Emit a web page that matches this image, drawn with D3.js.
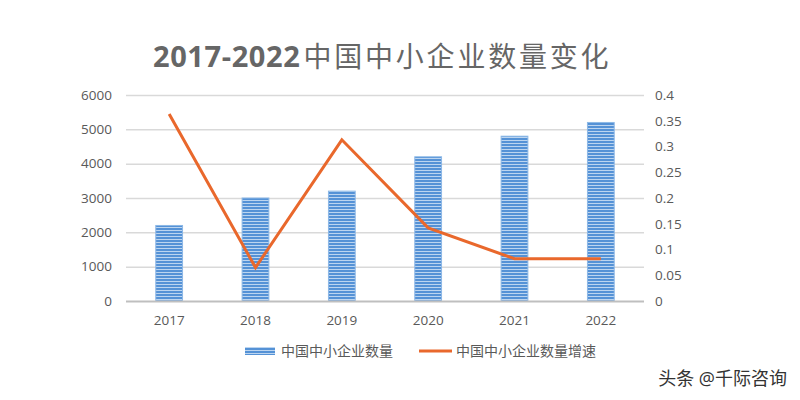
<!DOCTYPE html>
<html>
<head>
<meta charset="utf-8">
<script src="https://cdn.jsdelivr.net/npm/d3@7"></script>
<style>
  body { margin: 0; background: #fff; }
  svg text { font-family: "Open Sans", "Noto Sans CJK SC", sans-serif; }
</style>
</head>
<body>
<div id="chart"></div>
<script>
//////////////// DATA ////////////////

var years = ["2017", "2018", "2019", "2020", "2021", "2022"];
var companyCounts = [2200, 3000, 3200, 4200, 4800, 5200];
var growthRates = [0.363, 0.065, 0.313, 0.142, 0.082, 0.082];
var leftTicks = [0, 1000, 2000, 3000, 4000, 5000, 6000];
var rightTicks = [0, 0.05, 0.1, 0.15, 0.2, 0.25, 0.3, 0.35, 0.4];
var seriesNames = ["中国中小企业数量", "中国中小企业数量增速"];

//////////////// SETUP ////////////////

var w = 800,
    h = 400,
    margin = {top: 95, bottom: 99, left: 126, right: 156},
    barColor = "#5592d6",
    lineColor = "#e9682c",
    textColor = "#595959";

var svg = d3.select("#chart").append("svg")
    .attr("width", w)
    .attr("height", h);

// striped fill for the bars
var defs = svg.append("defs");
var pattern = defs.append("pattern")
    .attr("id", "stripes")
    .attr("patternUnits", "userSpaceOnUse")
    .attr("width", 6)
    .attr("height", 3);
pattern.append("rect").attr("width", 6).attr("height", 3).attr("fill", "#bcd5f0");
pattern.append("rect").attr("width", 6).attr("height", 2).attr("fill", barColor);

// Scales
var xScale = d3.scaleBand()
    .domain(years)
    .range([margin.left, w - margin.right]);

var yLeft = d3.scaleLinear()
    .domain([0, 6000])
    .range([h - margin.bottom, margin.top]);

var yRight = d3.scaleLinear()
    .domain([0, 0.4])
    .range([h - margin.bottom, margin.top]);

// Gridlines
svg.append("g")
    .selectAll("line")
    .data(leftTicks.slice(1))
    .enter()
    .append("line")
    .attr("x1", margin.left)
    .attr("x2", w - margin.right)
    .attr("y1", function(d) { return yLeft(d) + 0.5; })
    .attr("y2", function(d) { return yLeft(d) + 0.5; })
    .attr("stroke", "#d9d9d9")
    .attr("stroke-width", 1.5);

// Bars
var barWidth = xScale.bandwidth() * 0.31;
svg.append("g")
    .selectAll("rect")
    .data(companyCounts)
    .enter()
    .append("rect")
    .attr("x", function(d, i) { return xScale(years[i]) + xScale.bandwidth() / 2 - barWidth / 2; })
    .attr("y", function(d) { return yLeft(d); })
    .attr("width", barWidth)
    .attr("height", function(d) { return yLeft(0) - yLeft(d); })
    .attr("fill", "url(#stripes)")
    .attr("stroke", "#8db8e6")
    .attr("stroke-width", 1);

// Baseline
svg.append("line")
    .attr("x1", margin.left)
    .attr("x2", w - margin.right)
    .attr("y1", yLeft(0) + 0.5)
    .attr("y2", yLeft(0) + 0.5)
    .attr("stroke", "#bfbfbf")
    .attr("stroke-width", 2);

// Growth line
var line = d3.line()
    .x(function(d, i) { return xScale(years[i]) + xScale.bandwidth() / 2; })
    .y(function(d) { return yRight(d); });

svg.append("path")
    .datum(growthRates)
    .attr("d", line)
    .attr("fill", "none")
    .attr("stroke", lineColor)
    .attr("stroke-width", 3)
    .attr("stroke-linejoin", "miter");

// Axes - only tick labels are visible
var leftAxis = d3.axisLeft(yLeft).tickValues(leftTicks).tickSize(0).tickPadding(14)
    .tickFormat(d3.format("d"));
svg.append("g")
    .attr("transform", "translate(" + margin.left + ",0)")
    .call(leftAxis)
    .call(function(g) { g.select(".domain").remove(); })
    .selectAll("text")
    .attr("font-size", 13.5)
    .attr("fill", textColor);

var rightAxis = d3.axisRight(yRight).tickValues(rightTicks).tickSize(0).tickPadding(11)
    .tickFormat(function(d) { return d3.format("")(+d.toFixed(2)); });
svg.append("g")
    .attr("transform", "translate(" + (w - margin.right) + ",0)")
    .call(rightAxis)
    .call(function(g) { g.select(".domain").remove(); })
    .selectAll("text")
    .attr("font-size", 13.5)
    .attr("fill", textColor);

var bottomAxis = d3.axisBottom(xScale).tickSize(0).tickPadding(14);
svg.append("g")
    .attr("transform", "translate(0," + yLeft(0) + ")")
    .call(bottomAxis)
    .call(function(g) { g.select(".domain").remove(); })
    .selectAll("text")
    .attr("font-size", 13.5)
    .attr("fill", textColor);

// Title
var title = svg.append("text")
    .attr("x", 153)
    .attr("y", 67)
    .attr("fill", "#666666")
    .attr("font-size", 29);
title.append("tspan").attr("font-weight", "bold").attr("letter-spacing", 0.6).text("2017-2022");
title.append("tspan").attr("font-weight", "normal").attr("dx", 3)
    .attr("letter-spacing", 2.8).attr("font-size", 28).text("中国中小企业数量变化");

// Legend
var legend = svg.append("g");
legend.append("rect")
    .attr("x", 245).attr("y", 347)
    .attr("width", 30).attr("height", 8)
    .attr("fill", "url(#stripes)");
legend.append("text")
    .attr("x", 281).attr("y", 356)
    .attr("font-size", 14)
    .attr("fill", textColor)
    .text(seriesNames[0]);
legend.append("line")
    .attr("x1", 419).attr("x2", 452)
    .attr("y1", 351).attr("y2", 351)
    .attr("stroke", lineColor)
    .attr("stroke-width", 3);
legend.append("text")
    .attr("x", 456).attr("y", 356)
    .attr("font-size", 14)
    .attr("fill", textColor)
    .text(seriesNames[1]);

// Watermark
svg.append("text")
    .attr("x", 787)
    .attr("y", 385)
    .attr("text-anchor", "end")
    .attr("font-size", 18)
    .attr("fill", "#333333")
    .attr("stroke", "#ffffff")
    .attr("stroke-width", 2)
    .attr("paint-order", "stroke")
    .text("头条 @千际咨询");
</script>
</body>
</html>
